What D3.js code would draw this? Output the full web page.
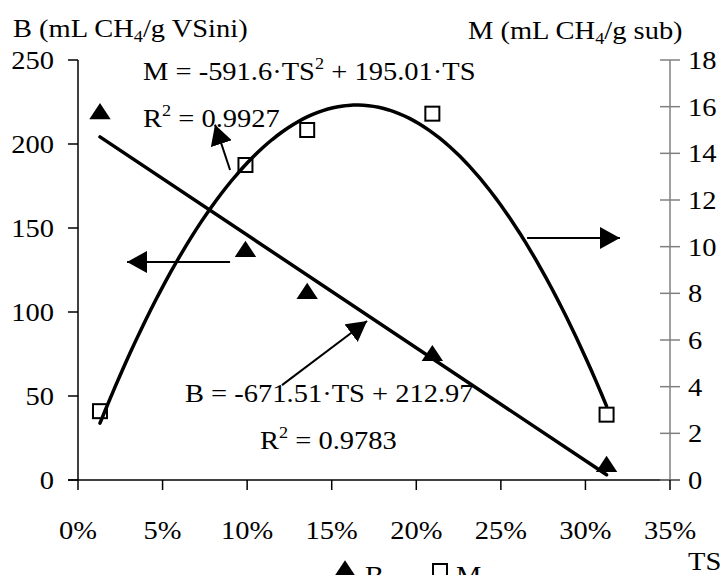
<!DOCTYPE html>
<html>
<head>
<meta charset="utf-8">
<script src="https://cdn.jsdelivr.net/npm/d3@7"></script>
<style>
  body { margin: 0; background: #fff; }
  svg { display: block; }
  text { font-family: "Liberation Serif", "Times New Roman", serif; fill: #000; }
</style>
</head>
<body>
<div id="chart"></div>
<script>
// values
var ts = [0.013, 0.099, 0.1355, 0.2095, 0.3125];
var bVals = [218, 136, 111, 74, 8];
var mVals = [2.95, 13.5, 15.0, 15.7, 2.8];

var xTicks = [0, 0.05, 0.10, 0.15, 0.20, 0.25, 0.30, 0.35];
var bTicks = [0, 50, 100, 150, 200, 250];
var mTicks = [0, 2, 4, 6, 8, 10, 12, 14, 16, 18];

// trendlines as printed on the chart
var bLin = [-671.51, 212.97];
var mQuad = [-591.6, 195.01];
var tsRange = [0.013, 0.3125];

var W = 725, H = 575;
var plotL = 78, plotR = 670, plotT = 60, plotB = 480;
var sx = 1.14; // the original text is stretched sideways
var fs = 25;

var svg = d3.select("#chart").append("svg")
	.attr("width", W)
	.attr("height", H);

var x = d3.scaleLinear().domain([0, 0.35]).range([plotL, plotR]);
var yB = d3.scaleLinear().domain([0, 250]).range([plotB, plotT]);
var yM = d3.scaleLinear().domain([0, 18]).range([plotB, plotT]);

function label(px, py, parts, anchor) {
	// parts: [text, "n"|"sub"|"sup"]
	var t = svg.append("text")
		.attr("transform", "translate(" + px + "," + py + ") scale(" + sx + ",1)")
		.attr("text-anchor", anchor || "start")
		.style("font-size", fs + "px");
	var shift = 0;
	parts.forEach(function(p) {
		var target = p[1] == "sub" ? 5 : (p[1] == "sup" ? -11 : 0);
		t.append("tspan")
			.attr("dy", target - shift)
			.style("font-size", p[1] == "n" ? fs + "px" : "16px")
			.text(p[0]);
		shift = target;
	});
	return t;
}

// axes
svg.append("line")
	.attr("x1", plotL).attr("x2", plotL).attr("y1", yB(250)).attr("y2", plotB)
	.attr("stroke", "#000").attr("stroke-width", 1.5);
svg.append("line")
	.attr("x1", plotR).attr("x2", plotR).attr("y1", yM(18)).attr("y2", plotB)
	.attr("stroke", "#808080").attr("stroke-width", 1.5);
svg.append("line")
	.attr("x1", plotL - 10).attr("x2", plotR + 10).attr("y1", plotB).attr("y2", plotB)
	.attr("stroke", "#000").attr("stroke-width", 1.5);

bTicks.forEach(function(v) {
	svg.append("line")
		.attr("x1", plotL - 10).attr("x2", plotL)
		.attr("y1", yB(v)).attr("y2", yB(v))
		.attr("stroke", "#000").attr("stroke-width", 1.5);
	label(plotL - 24, yB(v) + 9, [[String(v), "n"]], "end");
});

mTicks.forEach(function(v) {
	svg.append("line")
		.attr("x1", plotR - 10).attr("x2", plotR + 10)
		.attr("y1", yM(v)).attr("y2", yM(v))
		.attr("stroke", "#808080").attr("stroke-width", 1.5);
	label(plotR + 18, yM(v) + 9, [[String(v), "n"]], "start");
});

xTicks.forEach(function(v) {
	svg.append("line")
		.attr("x1", x(v)).attr("x2", x(v))
		.attr("y1", plotB).attr("y2", plotB + 10)
		.attr("stroke", "#000").attr("stroke-width", 1.5);
	label(x(v), 539, [[Math.round(v * 100) + "%", "n"]], "middle");
});

// axis titles
label(13, 37, [["B (mL CH", "n"], ["4", "sub"], ["/g VSini)", "n"]]);
label(468, 39, [["M (mL CH", "n"], ["4", "sub"], ["/g sub)", "n"]]);
label(688, 570, [["TS", "n"]]);

// markers
var tri = d3.symbol().type(d3.symbolTriangle).size(150);
var pts = ts.map(function(t, i) { return {ts: t, b: bVals[i], m: mVals[i]}; });

svg.selectAll(".bpt").data(pts).enter().append("path")
	.attr("class", "bpt")
	.attr("d", tri)
	.attr("transform", function(d) { return "translate(" + x(d.ts) + "," + yB(d.b) + ") scale(1.15,1)"; })
	.attr("fill", "#000");

svg.selectAll(".mpt").data(pts).enter().append("rect")
	.attr("class", "mpt")
	.attr("x", function(d) { return x(d.ts) - 7; })
	.attr("y", function(d) { return yM(d.m) - 7; })
	.attr("width", 14).attr("height", 14)
	.attr("fill", "none").attr("stroke", "#000").attr("stroke-width", 2);

// trendlines
var samples = d3.range(0, 101).map(function(i) {
	return tsRange[0] + (tsRange[1] - tsRange[0]) * i / 100;
});

svg.append("path")
	.datum(tsRange)
	.attr("d", d3.line()
		.x(function(t) { return x(t); })
		.y(function(t) { return yB(bLin[0] * t + bLin[1]); }))
	.attr("fill", "none").attr("stroke", "#000").attr("stroke-width", 3.5)
	.attr("stroke-linecap", "round");

svg.append("path")
	.datum(samples)
	.attr("d", d3.line()
		.x(function(t) { return x(t); })
		.y(function(t) { return yM(mQuad[0] * t * t + mQuad[1] * t); }))
	.attr("fill", "none").attr("stroke", "#000").attr("stroke-width", 3.5)
	.attr("stroke-linecap", "round");

// equation labels
label(143, 80, [["M = -591.6·TS", "n"], ["2", "sup"], [" + 195.01·TS", "n"]]);
label(143, 127, [["R", "n"], ["2", "sup"], [" = 0.9927", "n"]]);
label(185, 402, [["B = -671.51·TS + 212.97", "n"]]);
label(260, 449, [["R", "n"], ["2", "sup"], [" = 0.9783", "n"]]);

// arrows pointing each curve at its axis / equation
svg.append("defs").append("marker")
	.attr("id", "head")
	.attr("markerUnits", "userSpaceOnUse")
	.attr("markerWidth", 22).attr("markerHeight", 22)
	.attr("refX", 20).attr("refY", 11)
	.attr("orient", "auto")
	.append("path")
	.attr("d", "M0,0L20,11L0,22Z")
	.attr("fill", "#000");

var arrows = [
	{x1: 0.0899, y1: 184.5, x2: 0.081, y2: 211.5, axis: "B"},
	{x1: 0.0899, y1: 129.8, x2: 0.029, y2: 129.8, axis: "B"},
	{x1: 0.2655, y1: 10.37, x2: 0.3204, y2: 10.37, axis: "M"},
	{x1: 0.1206, y1: 56.5, x2: 0.1709, y2: 94.6, axis: "B"}
];
arrows.forEach(function(a) {
	var ys = a.axis == "B" ? yB : yM;
	svg.append("line")
		.attr("x1", x(a.x1)).attr("y1", ys(a.y1))
		.attr("x2", x(a.x2)).attr("y2", ys(a.y2))
		.attr("stroke", "#000").attr("stroke-width", 2)
		.attr("marker-end", "url(#head)");
});

// legend (cut by the bottom edge, as in the original)
svg.append("path")
	.attr("d", tri)
	.attr("transform", "translate(345,571) scale(1.15,1)")
	.attr("fill", "#000");
label(365, 584, [["B", "n"]]);
svg.append("rect")
	.attr("x", 433).attr("y", 564).attr("width", 14).attr("height", 14)
	.attr("fill", "none").attr("stroke", "#000").attr("stroke-width", 2);
label(456, 584, [["M", "n"]]);
</script>
</body>
</html>
